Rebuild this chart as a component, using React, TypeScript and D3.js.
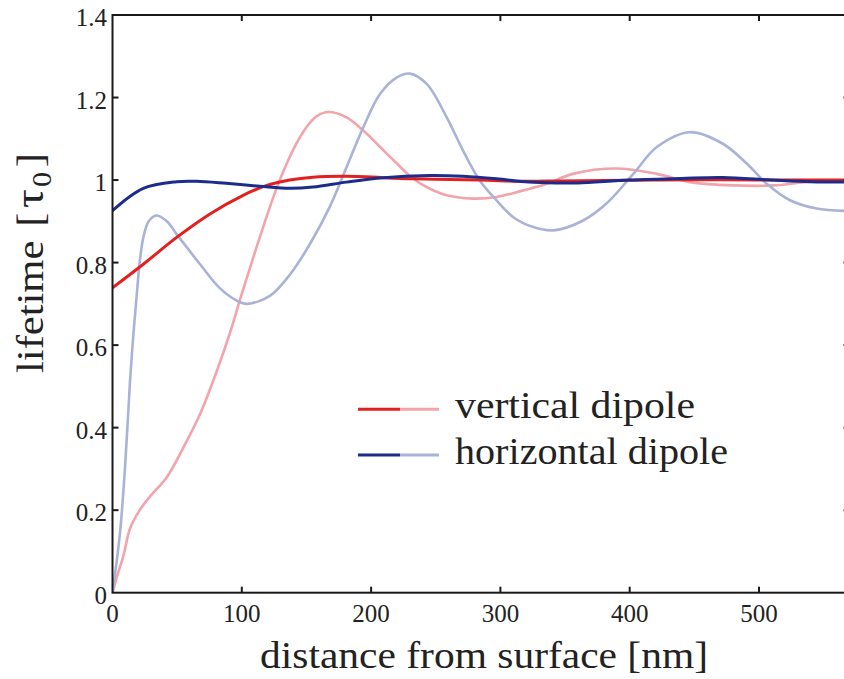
import React from 'react';
import * as d3 from 'd3';

// ---- data (distance in nm, lifetime in units of tau0) ----
const xTicks = [0, 100, 200, 300, 400, 500];
const yTicks = [0, 0.2, 0.4, 0.6, 0.8, 1, 1.2, 1.4];
const yTickLabels = ['0', '0.2', '0.4', '0.6', '0.8', '1', '1.2', '1.4'];

const seriesNames = ['vertical dipole', 'horizontal dipole'];

// vertical dipole, bold curve
const vertBoldD = [0, 23.8, 49.6, 75.4, 101, 116.6, 137, 155, 181, 232.6, 284, 320, 346, 380, 420, 470, 520, 570];
const vertBoldV = [0.739, 0.796, 0.861, 0.918, 0.963, 0.984, 1.0, 1.007, 1.009, 1.003, 1.0, 0.997, 0.998, 0.999, 1.0, 1.001, 1.0, 1.0];

// vertical dipole, light curve
const vertLightD = [0, 4, 8.5, 13.5, 21, 29, 42, 55, 68, 81, 91.5, 98.6, 111.5, 124, 132, 142.5, 150, 158, 167, 181, 194, 207, 220, 232.6, 245.5, 258.5, 279, 297, 317.7, 336, 356, 390, 421, 446.6, 480, 511, 536, 570];
const vertLightV = [0, 0.045, 0.09, 0.155, 0.2, 0.233, 0.28, 0.353, 0.435, 0.54, 0.636, 0.71, 0.838, 0.955, 1.02, 1.09, 1.128, 1.155, 1.165, 1.152, 1.12, 1.08, 1.04, 1.003, 0.979, 0.963, 0.955, 0.959, 0.975, 0.991, 1.015, 1.028, 1.015, 0.995, 0.987, 0.987, 0.995, 1.0];

// horizontal dipole, bold curve
const horBoldD = [0, 23.8, 49.6, 65, 88, 114, 137, 155, 181, 207, 245.5, 271, 297, 322, 346, 360, 400, 440, 472, 510, 540, 570];
const horBoldV = [0.926, 0.98, 0.996, 0.997, 0.992, 0.985, 0.98, 0.983, 0.995, 1.005, 1.011, 1.009, 1.003, 0.995, 0.993, 0.993, 1.0, 1.004, 1.006, 1.0, 0.996, 0.995];

// horizontal dipole, light curve
const horLightD = [0, 5.8, 9.7, 13.5, 16, 18.7, 21, 23.8, 28, 34, 42, 49.6, 67.7, 83, 96, 104, 122, 137, 152.7, 168, 181, 194, 207, 220, 230, 243, 258.5, 271, 284, 297, 310, 325.4, 341, 364, 382, 402.8, 421, 446.6, 472, 490.5, 506, 524, 544.6, 570];
const horLightV = [0, 0.145, 0.305, 0.51, 0.62, 0.72, 0.8, 0.86, 0.9, 0.914, 0.9, 0.869, 0.796, 0.738, 0.708, 0.7, 0.72, 0.77, 0.845, 0.935, 1.031, 1.128, 1.209, 1.249, 1.258, 1.233, 1.152, 1.072, 0.999, 0.951, 0.91, 0.886, 0.878, 0.902, 0.943, 1.015, 1.08, 1.116, 1.088, 1.04, 0.991, 0.951, 0.931, 0.925];

const RED = '#e3201f';
const RED_LIGHT = '#f3a3aa';
const BLUE = '#1c2c8c';
const BLUE_LIGHT = '#aab2d8';

const W = 844;
const H = 679;
const left = 112.5;
const right = 849.5;
const top = 15;
const bottom = 592.7;

export default function App() {
  const x = d3.scaleLinear().domain([0, 570]).range([left, right]);
  const y = d3.scaleLinear().domain([0, 1.4]).range([bottom, top]);

  const mk = (ds: number[], vs: number[]) =>
    d3
      .line<number>()
      .x((_, i) => x(ds[i]))
      .y((v) => y(v))
      .curve(d3.curveCatmullRom.alpha(0.5))(vs) || '';

  const tickLen = 6;
  const axisColor = '#1a1a1a';
  const font = "'Liberation Serif', Tinos, 'Times New Roman', Times, serif";

  return (
    <svg
      width={W}
      height={H}
      style={{ position: 'absolute', left: 0, top: 0, background: '#fff', fontFamily: font }}
    >
      <defs>
        <clipPath id="plot">
          <rect x={left} y={top} width={right - left} height={bottom - top} />
        </clipPath>
      </defs>
      <rect x={0} y={0} width={W} height={H} fill="#fff" />

      <g clipPath="url(#plot)" fill="none" strokeLinejoin="round" strokeLinecap="round">
        <path d={mk(vertLightD, vertLightV)} stroke={RED_LIGHT} strokeWidth={2.6} />
        <path d={mk(horLightD, horLightV)} stroke={BLUE_LIGHT} strokeWidth={2.6} />
        <path d={mk(vertBoldD, vertBoldV)} stroke={RED} strokeWidth={3} />
        <path d={mk(horBoldD, horBoldV)} stroke={BLUE} strokeWidth={3} />
      </g>

      {/* frame */}
      <rect x={left} y={top} width={right - left} height={bottom - top} fill="none" stroke={axisColor} strokeWidth={2} />

      {/* x ticks */}
      {xTicks.map((t) => (
        <g key={'x' + t}>
          {t > 0 && (
            <>
              <line x1={x(t)} x2={x(t)} y1={bottom} y2={bottom - tickLen} stroke={axisColor} strokeWidth={2} />
              <line x1={x(t)} x2={x(t)} y1={top} y2={top + tickLen} stroke={axisColor} strokeWidth={2} />
            </>
          )}
          <text x={x(t)} y={622} fontSize={25} textAnchor="middle" fill="#222">
            {t}
          </text>
        </g>
      ))}

      {/* y ticks */}
      {yTicks.map((t, i) => (
        <g key={'y' + t}>
          {t > 0 && t < 1.4 && (
            <>
              <line x1={left} x2={left + tickLen} y1={y(t)} y2={y(t)} stroke={axisColor} strokeWidth={2} />
              <line x1={right} x2={right - tickLen} y1={y(t)} y2={y(t)} stroke={axisColor} strokeWidth={2} />
            </>
          )}
          <text x={107} y={y(t) + 11} fontSize={25} textAnchor="end" fill="#222">
            {yTickLabels[i]}
          </text>
        </g>
      ))}

      {/* axis labels */}
      <text x={260} y={668} fontSize={37} textLength={448} lengthAdjust="spacingAndGlyphs" fill="#222">
        distance from surface [nm]
      </text>
      <text transform="translate(43,373) rotate(-90) scale(1.12,1)" fontSize={38} fill="#222">
        lifetime <tspan dx={3}>[</tspan>
        <tspan dx={4} fontSize={42}>τ</tspan>
        <tspan fontSize={27} dy={8} dx={2}>0</tspan>
        <tspan dy={-8} dx={4}>]</tspan>
      </text>

      {/* legend */}
      <g>
        <line x1={358} x2={400} y1={409.3} y2={409.3} stroke={RED} strokeWidth={3} />
        <line x1={400} x2={439} y1={409.3} y2={409.3} stroke={RED_LIGHT} strokeWidth={3} />
        <text x={455} y={418} fontSize={37} textLength={240} lengthAdjust="spacingAndGlyphs" fill="#222">
          {seriesNames[0]}
        </text>
        <line x1={358} x2={400} y1={455} y2={455} stroke={BLUE} strokeWidth={3} />
        <line x1={400} x2={439} y1={455} y2={455} stroke={BLUE_LIGHT} strokeWidth={3} />
        <text x={455} y={463.5} fontSize={37} textLength={273} lengthAdjust="spacingAndGlyphs" fill="#222">
          {seriesNames[1]}
        </text>
      </g>
    </svg>
  );
}
